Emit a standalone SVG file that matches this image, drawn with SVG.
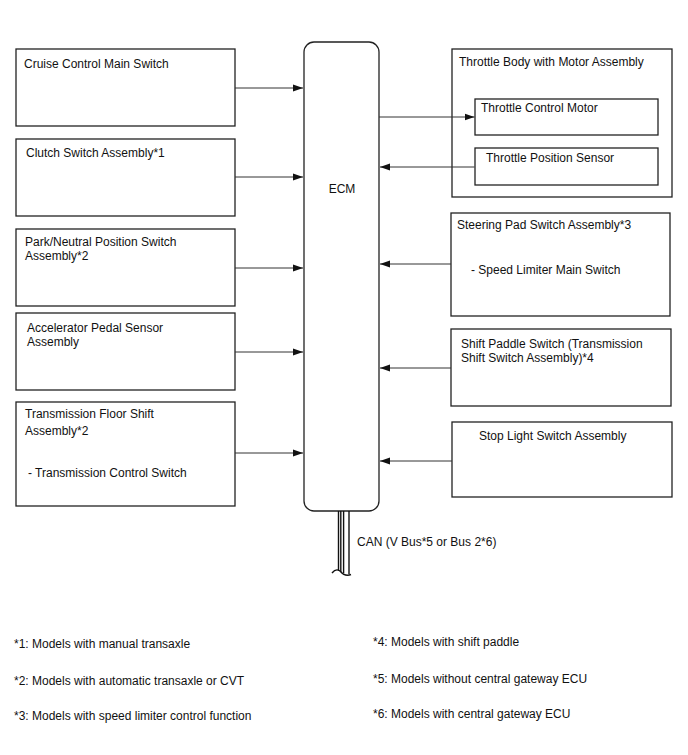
<svg xmlns="http://www.w3.org/2000/svg" width="688" height="755" viewBox="0 0 688 755">
<style>
.box{fill:#fff;stroke:#222;stroke-width:1.3}
.t{font-family:"Liberation Sans",Arial,sans-serif;font-size:12px;fill:#111}
.f{font-family:"Liberation Sans",Arial,sans-serif;font-size:12px;fill:#111}
.c{stroke:#333;stroke-width:1;fill:none}
.can{stroke:#111;stroke-width:1.4;fill:none}
</style>
<defs>
<marker id="ah" markerWidth="10" markerHeight="8" refX="10" refY="4" orient="auto" markerUnits="userSpaceOnUse">
<path d="M0,0.5 L10,4 L0,7.5 Z" fill="#111"/>
</marker>
</defs>
<rect width="688" height="755" fill="#fff"/>

<g id="ecm">
<rect class="box" x="304" y="42" width="75" height="469" rx="10" ry="10"/>
<text class="t" x="342" y="193" text-anchor="middle">ECM</text>
</g>

<g id="cruise-control-main-switch">
<rect class="box" x="16" y="49" width="219" height="77"/>
<text class="t" x="24" y="68">Cruise Control Main Switch</text>
</g>

<g id="clutch-switch">
<rect class="box" x="16" y="139" width="219" height="77"/>
<text class="t" x="26" y="157">Clutch Switch Assembly*1</text>
</g>

<g id="park-neutral-switch">
<rect class="box" x="16" y="229" width="219" height="77"/>
<text class="t" x="25" y="246">Park/Neutral Position Switch</text>
<text class="t" x="25" y="260">Assembly*2</text>
</g>

<g id="accelerator-pedal-sensor">
<rect class="box" x="16" y="313" width="219" height="77"/>
<text class="t" x="27" y="332">Accelerator Pedal Sensor</text>
<text class="t" x="27" y="346">Assembly</text>
</g>

<g id="transmission-floor-shift">
<rect class="box" x="16" y="402" width="219" height="104"/>
<text class="t" x="25" y="418">Transmission Floor Shift</text>
<text class="t" x="25" y="435">Assembly*2</text>
<text class="t" x="28" y="477">- Transmission Control Switch</text>
</g>

<g id="throttle-body">
<rect class="box" x="452" y="49" width="220" height="148"/>
<text class="t" x="459" y="66">Throttle Body with Motor Assembly</text>
</g>

<g id="throttle-control-motor">
<rect class="box" x="475" y="99" width="183" height="36"/>
<text class="t" x="481" y="112">Throttle Control Motor</text>
</g>

<g id="throttle-position-sensor">
<rect class="box" x="475" y="148" width="183" height="37"/>
<text class="t" x="486" y="162">Throttle Position Sensor</text>
</g>

<g id="steering-pad-switch">
<rect class="box" x="451" y="213" width="219" height="103"/>
<text class="t" x="457" y="229">Steering Pad Switch Assembly*3</text>
<text class="t" x="471" y="274">- Speed Limiter Main Switch</text>
</g>

<g id="shift-paddle-switch">
<rect class="box" x="451" y="329" width="220" height="77"/>
<text class="t" x="461" y="348">Shift Paddle Switch (Transmission</text>
<text class="t" x="461" y="362">Shift Switch Assembly)*4</text>
</g>

<g id="stop-light-switch">
<rect class="box" x="452" y="422" width="220" height="75"/>
<text class="t" x="479" y="440">Stop Light Switch Assembly</text>
</g>

<g id="connectors">
<line class="c" x1="235" y1="88" x2="303" y2="88" marker-end="url(#ah)"/>
<line class="c" x1="235" y1="177" x2="303" y2="177" marker-end="url(#ah)"/>
<line class="c" x1="235" y1="268" x2="303" y2="268" marker-end="url(#ah)"/>
<line class="c" x1="235" y1="352" x2="303" y2="352" marker-end="url(#ah)"/>
<line class="c" x1="235" y1="453" x2="303" y2="453" marker-end="url(#ah)"/>
<line class="c" x1="379" y1="117" x2="474.5" y2="117" marker-end="url(#ah)"/>
<line class="c" x1="474.5" y1="167" x2="380" y2="167" marker-end="url(#ah)"/>
<line class="c" x1="451" y1="264" x2="380" y2="264" marker-end="url(#ah)"/>
<line class="c" x1="451" y1="368" x2="380" y2="368" marker-end="url(#ah)"/>
<line class="c" x1="452" y1="461" x2="380" y2="461" marker-end="url(#ah)"/>
</g>

<g id="can-bus">
<line class="can" x1="338.5" y1="511" x2="338.5" y2="571"/>
<line class="can" x1="340.8" y1="511" x2="340.8" y2="572"/>
<line class="can" x1="343.6" y1="511" x2="343.6" y2="573"/>
<line class="can" x1="349" y1="511" x2="349" y2="574"/>
<path class="can" d="M332,573 Q336,568 340,571 Q345,577 351,574.5"/>
<text class="t" x="357" y="546">CAN (V Bus*5 or Bus 2*6)</text>
</g>

<g id="footnotes">
<text class="f" x="14" y="648">*1: Models with manual transaxle</text>
<text class="f" x="14" y="685">*2: Models with automatic transaxle or CVT</text>
<text class="f" x="14" y="720">*3: Models with speed limiter control function</text>
<text class="f" x="373" y="646">*4: Models with shift paddle</text>
<text class="f" x="373" y="683">*5: Models without central gateway ECU</text>
<text class="f" x="373" y="718">*6: Models with central gateway ECU</text>
</g>
</svg>
